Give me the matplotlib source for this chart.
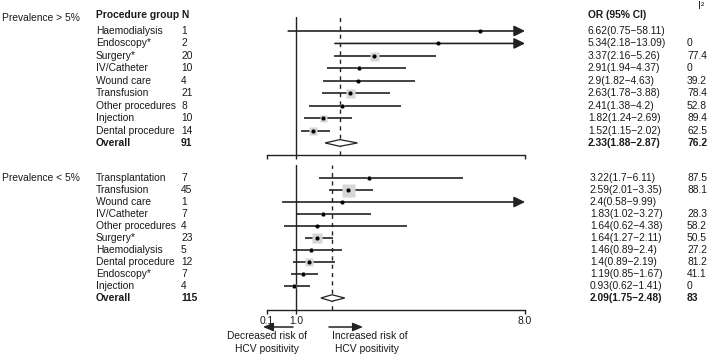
import matplotlib
matplotlib.use('Agg')
import matplotlib.pyplot as plt

plt.rcParams['font.family'] = ['Liberation Sans', 'DejaVu Sans']

# prevalence > 5%
grp_hi = ['Haemodialysis', 'Endoscopy*', 'Surgery*', 'IV/Catheter', 'Wound care',
          'Transfusion', 'Other procedures', 'Injection', 'Dental procedure', 'Overall']
n_hi = [1, 2, 20, 10, 4, 21, 8, 10, 14, 91]
or_hi = [6.62, 5.34, 3.37, 2.91, 2.9, 2.63, 2.41, 1.82, 1.52, 2.33]
lo_hi = [0.75, 2.18, 2.16, 1.94, 1.82, 1.78, 1.38, 1.24, 1.15, 1.88]
up_hi = [58.11, 13.09, 5.26, 4.37, 4.63, 3.88, 4.2, 2.69, 2.02, 2.87]
i2_hi = [None, 0, 77.4, 0, 39.2, 78.4, 52.8, 89.4, 62.5, 76.2]
w_hi = [0, 0, 9, 5, 0, 9, 5, 7, 8]

# prevalence < 5%
grp_lo = ['Transplantation', 'Transfusion', 'Wound care', 'IV/Catheter', 'Other procedures',
          'Surgery*', 'Haemodialysis', 'Dental procedure', 'Endoscopy*', 'Injection', 'Overall']
n_lo = [7, 45, 1, 7, 4, 23, 5, 12, 7, 4, 115]
or_lo = [3.22, 2.59, 2.4, 1.83, 1.64, 1.64, 1.46, 1.4, 1.19, 0.93, 2.09]
lo_lo = [1.7, 2.01, 0.58, 1.02, 0.62, 1.27, 0.89, 0.89, 0.85, 0.62, 1.75]
up_lo = [6.11, 3.35, 9.99, 3.27, 4.38, 2.11, 2.4, 2.19, 1.67, 1.41, 2.48]
i2_lo = [87.5, 88.1, None, 28.3, 58.2, 50.5, 27.2, 81.2, 41.1, 0, 83]
w_lo = [5, 13, 0, 4, 0, 10, 5, 8, 5, 4]

W, H = 709, 356
XMIN, XMAX = 0.1, 8.0
fig = plt.figure(figsize=(W / 100, H / 100), dpi=100)

bg = fig.add_axes([0, 0, 1, 1])
bg.set_xlim(0, W)
bg.set_ylim(H, 0)
bg.axis('off')

fs = 7.4
tc = '#1a1a1a'
lc = '#222222'


def px_axes(left, top, right, bottom):
    return fig.add_axes([left / W, 1 - bottom / H, (right - left) / W, (bottom - top) / H])


def panel(top, bottom, y0, dy, grp, n, orr, lo, up, i2, w, title, ty, xor, labels):
    ax = px_axes(267, top, 525, bottom)
    nrow = len(grp)
    ax.set_xlim(XMIN, XMAX)
    ax.set_ylim((bottom - y0) / dy, -(y0 - top) / dy)
    for s in ['left', 'right', 'top']:
        ax.spines[s].set_visible(False)
    ax.spines['bottom'].set_color(lc)
    ax.spines['bottom'].set_linewidth(1.0)
    ax.set_yticks([])
    ax.set_xticks([0.1, 1.0, 8.0])
    ax.tick_params(axis='x', direction='out', length=3, width=1.0, color=lc,
                   labelsize=fs, labelcolor=tc, pad=1.5)
    if labels:
        ax.set_xticklabels(['0.1', '1.0', '8.0'])
    else:
        ax.set_xticklabels([])
    ax.axvline(1.0, color=lc, lw=1.0)
    ax.axvline(orr[-1], color=lc, lw=1.0, ls=(0, (3, 3)))
    for i in range(nrow - 1):
        if up[i] > XMAX:
            ax.annotate('', xy=(XMAX, i), xytext=(lo[i], i),
                        arrowprops=dict(arrowstyle='-|>,head_length=0.65,head_width=0.32',
                                        color=lc, lw=1.2, shrinkA=0, shrinkB=0),
                        annotation_clip=False)
        else:
            ax.plot([lo[i], up[i]], [i, i], color=lc, lw=1.2, solid_capstyle='butt')
        if w[i] > 0:
            ax.plot(orr[i], i, marker='s', ms=w[i] * 0.72, color='#d6d6d6', mec='none', zorder=3)
        ax.plot(orr[i], i, marker='o', ms=3.0, color='black', mec='none', zorder=4)
    k = nrow - 1
    h = 0.27
    ax.fill([lo[k], orr[k], up[k], orr[k]], [k, k - h, k, k + h],
            facecolor='white', edgecolor=lc, lw=0.9, zorder=3)

    bg.text(2, ty, title, fontsize=fs, color=tc, va='center')
    for i in range(nrow):
        y = y0 + dy * i
        wt = 'bold' if i == nrow - 1 else 'normal'
        bg.text(96, y, grp[i], fontsize=fs, color=tc, va='center', fontweight=wt)
        bg.text(181, y, str(n[i]), fontsize=fs, color=tc, va='center', fontweight=wt)
        bg.text(xor, y, f'{orr[i]:g}({lo[i]:g}\u2212{up[i]:g})', fontsize=fs, color=tc,
                va='center', fontweight=wt)
        if i2[i] is not None:
            bg.text(687, y, f'{i2[i]:g}', fontsize=fs, color=tc, va='center', fontweight=wt)
    return ax


panel(17, 155, 31, 12.44, grp_hi, n_hi, or_hi, lo_hi, up_hi, i2_hi, w_hi,
      'Prevalence > 5%', 18, 588, False)
panel(165, 310, 178, 12.0, grp_lo, n_lo, or_lo, lo_lo, up_lo, i2_lo, w_lo,
      'Prevalence < 5%', 178, 590, True)

# headers
bg.text(96, 15, 'Procedure group', fontsize=fs, color=tc, va='center', fontweight='bold')
bg.text(181, 15, 'N', fontsize=fs, color=tc, va='center', fontweight='bold')
bg.text(588, 15, 'OR (95% CI)', fontsize=fs, color=tc, va='center', fontweight='bold')
bg.text(701, 6, 'I\u00b2', fontsize=fs, color=tc, va='center', ha='center')

# direction arrows
bg.annotate('', xy=(263, 327), xytext=(293, 327),
            arrowprops=dict(arrowstyle='-|>,head_length=0.6,head_width=0.25', color=lc,
                            lw=1.1, shrinkA=0, shrinkB=0))
bg.annotate('', xy=(363, 327), xytext=(329, 327),
            arrowprops=dict(arrowstyle='-|>,head_length=0.6,head_width=0.25', color=lc,
                            lw=1.1, shrinkA=0, shrinkB=0))
bg.text(267, 336, 'Decreased risk of', fontsize=fs, color=tc, va='center', ha='center')
bg.text(267, 349, 'HCV positivity', fontsize=fs, color=tc, va='center', ha='center')
bg.text(370, 336, 'Increased risk of', fontsize=fs, color=tc, va='center', ha='center')
bg.text(367, 349, 'HCV positivity', fontsize=fs, color=tc, va='center', ha='center')

fig.savefig('out.png', dpi=100)
